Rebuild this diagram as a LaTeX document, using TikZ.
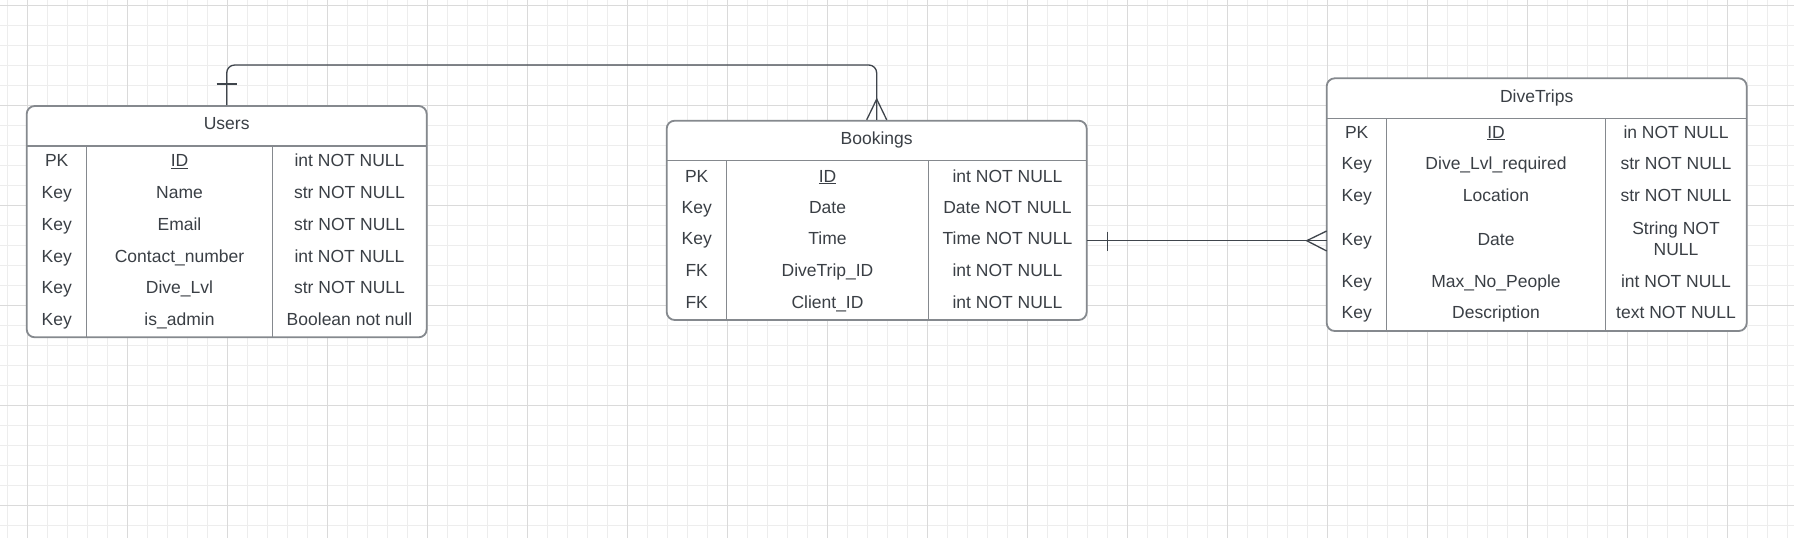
\documentclass[tikz,border=0pt]{standalone}
\usepackage{fontspec}
\setmainfont{Liberation Sans}
\definecolor{gridminor}{HTML}{EDEDED}
\definecolor{gridmajor}{HTML}{DADADA}
\definecolor{boxline}{HTML}{85898E}
\definecolor{txt}{HTML}{3A3F45}
\definecolor{connc}{HTML}{3F454C}
\begin{document}
\begin{tikzpicture}[x=1pt,y=-1pt,
  tbl/.style={draw=boxline, line width=1.8pt, rounded corners=8pt, fill=white, inner sep=0pt},
  cell/.style={text=txt, font=\fontsize{17.5}{21.6}\selectfont, anchor=base, inner sep=0pt},
  conn/.style={draw=connc, line width=1.3pt},
  sepline/.style={draw=boxline, line width=1.5pt},
  gmin/.style={draw=gridminor, line width=1pt},
  gmaj/.style={draw=gridmajor, line width=1pt}]
\useasboundingbox (0,0) rectangle (1794,538);
\fill[white] (0,0) rectangle (1794,538);
% grid
\foreach \x in {7.3,27.3,...,1794} \draw[gmin] (\x,0) -- (\x,538);
\foreach \y in {5.3,25.3,...,538} \draw[gmin] (0,\y) -- (1794,\y);
\foreach \x in {27.3,127.3,...,1794} \draw[gmaj] (\x,0) -- (\x,538);
\foreach \y in {5.3,105.3,...,538} \draw[gmaj] (0,\y) -- (1794,\y);

% ---------- Users ----------
\node[tbl, minimum width=400pt, minimum height=231.3pt] (users) at (226.7,221.65) {};
\draw[sepline] (26.7,146) -- (426.7,146);
\draw[sepline] (86.7,146) -- (86.7,337.3);
\draw[sepline] (272.3,146) -- (272.3,337.3);
\node[cell] (u-h) at (226.7,129.6) {Users};
\node[cell] (u-k1) at (56.7,166.3) {PK};
\node[cell] (u-n1) at (179.5,166.3) {\underline{ID}};
\node[cell] (u-t1) at (349.5,166.3) {int NOT NULL};
\node[cell] (u-k2) at (56.7,198.2) {Key};
\node[cell] (u-n2) at (179.5,198.2) {Name};
\node[cell] (u-t2) at (349.5,198.2) {str NOT NULL};
\node[cell] (u-k3) at (56.7,230.1) {Key};
\node[cell] (u-n3) at (179.5,230.1) {Email};
\node[cell] (u-t3) at (349.5,230.1) {str NOT NULL};
\node[cell] (u-k4) at (56.7,262.0) {Key};
\node[cell] (u-n4) at (179.5,262.0) {Contact\_number};
\node[cell] (u-t4) at (349.5,262.0) {int NOT NULL};
\node[cell] (u-k5) at (56.7,293.9) {Key};
\node[cell] (u-n5) at (179.5,293.9) {Dive\_Lvl};
\node[cell] (u-t5) at (349.5,293.9) {str NOT NULL};
\node[cell] (u-k6) at (56.7,325.8) {Key};
\node[cell] (u-n6) at (179.5,325.8) {is\_admin};
\node[cell] (u-t6) at (349.5,325.8) {Boolean not null};

% ---------- Bookings ----------
\node[tbl, minimum width=420pt, minimum height=199.3pt] (bookings) at (876.7,220.35) {};
\draw[sepline] (666.7,160.7) -- (1086.7,160.7);
\draw[sepline] (726.7,160.7) -- (726.7,320);
\draw[sepline] (928.3,160.7) -- (928.3,320);
\node[cell] (b-h) at (876.7,144.6) {Bookings};
\node[cell] (b-k1) at (696.7,182) {PK};
\node[cell] (b-n1) at (827.5,182) {\underline{ID}};
\node[cell] (b-t1) at (1007.5,182) {int NOT NULL};
\node[cell] (b-k2) at (696.7,213) {Key};
\node[cell] (b-n2) at (827.5,213) {Date};
\node[cell] (b-t2) at (1007.5,213) {Date NOT NULL};
\node[cell] (b-k3) at (696.7,244.6) {Key};
\node[cell] (b-n3) at (827.5,244.6) {Time};
\node[cell] (b-t3) at (1007.5,244.6) {Time NOT NULL};
\node[cell] (b-k4) at (696.7,276.3) {FK};
\node[cell] (b-n4) at (827.5,276.3) {DiveTrip\_ID};
\node[cell] (b-t4) at (1007.5,276.3) {int NOT NULL};
\node[cell] (b-k5) at (696.7,308) {FK};
\node[cell] (b-n5) at (827.5,308) {Client\_ID};
\node[cell] (b-t5) at (1007.5,308) {int NOT NULL};

% ---------- DiveTrips ----------
\node[tbl, minimum width=420pt, minimum height=252.7pt] (divetrips) at (1536.7,204.65) {};
\draw[sepline] (1326.7,118.3) -- (1746.7,118.3);
\draw[sepline] (1386.7,118.3) -- (1386.7,331);
\draw[sepline] (1605.3,118.3) -- (1605.3,331);
\node[cell] (d-h) at (1536.7,102.3) {DiveTrips};
\node[cell] (d-k1) at (1356.7,138) {PK};
\node[cell] (d-n1) at (1496,138) {\underline{ID}};
\node[cell] (d-t1) at (1676,138) {in NOT NULL};
\node[cell] (d-k2) at (1356.7,169.6) {Key};
\node[cell] (d-n2) at (1496,169.6) {Dive\_Lvl\_required};
\node[cell] (d-t2) at (1676,169.6) {str NOT NULL};
\node[cell] (d-k3) at (1356.7,201.6) {Key};
\node[cell] (d-n3) at (1496,201.6) {Location};
\node[cell] (d-t3) at (1676,201.6) {str NOT NULL};
\node[cell] (d-k4) at (1356.7,245.3) {Key};
\node[cell] (d-n4) at (1496,245.3) {Date};
\node[cell, anchor=north, align=center] (d-t4) at (1676,221.4) {String NOT\\NULL};
\node[cell] (d-k5) at (1356.7,287) {Key};
\node[cell] (d-n5) at (1496,287) {Max\_No\_People};
\node[cell] (d-t5) at (1676,287) {int NOT NULL};
\node[cell] (d-k6) at (1356.7,318.6) {Key};
\node[cell] (d-n6) at (1496,318.6) {Description};
\node[cell] (d-t6) at (1676,318.6) {text NOT NULL};

% ---------- connectors ----------
\coordinate (c1) at (226.7,65);
\coordinate (c2) at (876.7,65);
\draw[conn, rounded corners=8pt] (users.north) -- (c1) -- (c2) -- (bookings.north);
% one mark at Users
\draw[conn] ([xshift=-10pt,yshift=21pt]users.north) -- ([xshift=10pt,yshift=21pt]users.north);
% many mark at Bookings
\draw[conn] ([xshift=-10pt]bookings.north) -- ([yshift=20.7pt]bookings.north) -- ([xshift=10pt]bookings.north);

\coordinate (b-r) at (1086.7,240.7);
\coordinate (d-l) at (1326.7,240.7);
\draw[conn] (b-r) -- (d-l);
\draw[conn] ([xshift=20.6pt,yshift=9pt]b-r) -- ([xshift=20.6pt,yshift=-10pt]b-r);
\draw[conn] ([yshift=9.7pt]d-l) -- ([xshift=-20pt]d-l) -- ([yshift=-10.3pt]d-l);
\end{tikzpicture}
\end{document}
